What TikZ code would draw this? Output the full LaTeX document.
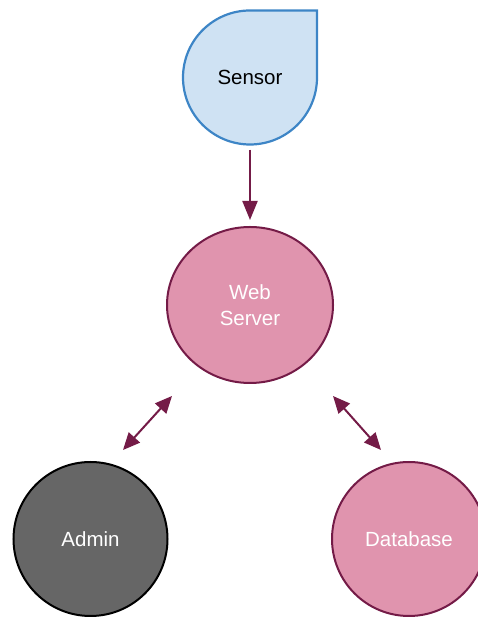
\documentclass[tikz,border=0pt]{standalone}
\usepackage{fontspec}
\setmainfont{Liberation Sans}
\usetikzlibrary{arrows.meta,shapes.geometric,calc}
\definecolor{sfill}{HTML}{CFE2F3}
\definecolor{sline}{HTML}{3D85C6}
\definecolor{pfill}{HTML}{E094AE}
\definecolor{pline}{HTML}{741B47}
\definecolor{gfill}{HTML}{666666}
\begin{document}
\begin{tikzpicture}[x=1pt,y=1pt,
  lbl/.style={font=\fontsize{20.5}{26}\selectfont, align=center},
  pinkc/.style={lbl, draw=pline, fill=pfill, line width=2pt, text=white, inner sep=0pt},
  tip/.style={Triangle[length=19pt,width=15pt]},
  arr/.style={draw=pline, line width=2pt, -{Triangle[length=19pt,width=15pt]}},
  dbl/.style={draw=pline, line width=2pt, {Triangle[length=17pt,width=15pt]}-{Triangle[length=17pt,width=15pt]}}]
\useasboundingbox (0,0) rectangle (477,617);
% sensor teardrop
\draw[draw=sline, fill=sfill, line width=2.2pt]
  (317,539.5) -- (317,606.5) -- (250,606.5) arc[start angle=90, end angle=360, radius=67] -- cycle;
\node[lbl, circle, minimum size=134pt, inner sep=0pt] (sensor) at (250,539.5) {Sensor};
\node[pinkc, ellipse, minimum width=166pt, minimum height=156pt] (web) at (250,312) {Web\\Server};
\node[lbl, circle, draw=black, fill=gfill, line width=2pt, text=white, minimum size=154pt, inner sep=0pt] (admin) at (90.5,78) {Admin};
\node[pinkc, circle, minimum size=154pt] (db) at (409,78) {Database};
\coordinate (wa) at (172,221);
\coordinate (aw) at (123,167);
\coordinate (wd) at (333,221);
\coordinate (dw) at (381,167);
\draw[arr, shorten <=5pt, shorten >=6pt] (sensor) -- (web);
\draw[dbl] (wa) -- (aw);
\draw[dbl] (wd) -- (dw);
\end{tikzpicture}
\end{document}
